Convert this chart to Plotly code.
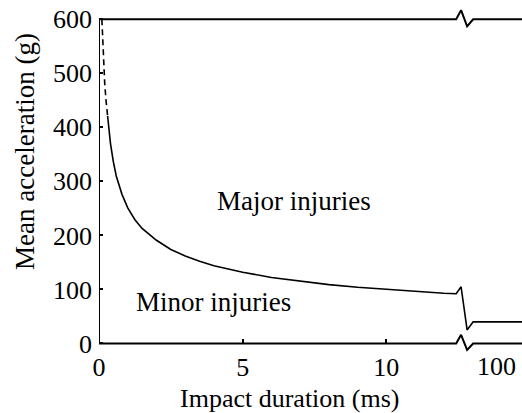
import plotly.graph_objects as go

# Impact duration (ms) and mean acceleration (g)
dash_t = [0.1, 0.15, 0.2, 0.25, 0.3]
dash_a = [600, 530, 480, 447, 421]

curve_t = [0.3, 0.4, 0.5, 0.6, 0.8, 1.0, 1.25, 1.5, 2.0, 2.5, 3.0, 3.5, 4.0,
           5.0, 6.0, 7.0, 8.0, 9.0, 10.0, 11.0, 12.0, 12.43]
curve_a = [421, 370, 336, 310, 276, 251, 229, 213, 191, 174, 162, 152, 144,
           132, 122, 115, 109, 104, 100, 96, 93, 92]

# axis-break zigzag (broken axis between ~13 ms and 100 ms)
brk_t = [12.43, 12.6, 12.81, 13.02]
curve_brk_a = [92, 105, 25, 40]
long_a = 40          # level for the long-duration (100 ms) region
x_end = 14.72

top_a = [600, 617, 587, 600]
bot_a = [0, 16, -12, 0]

x_ticks = [0, 5, 10]
x_ticktext = ["0", "5", "10"]
x100_pos = 13.84
y_ticks = [0, 100, 200, 300, 400, 500, 600]

y_lo, y_hi = -21.3, 620.9

FONT = "Times New Roman, Times, Liberation Serif, serif"
FS = 26
line = dict(color="black", width=1.6)
axline = dict(color="black", width=2)

fig = go.Figure()
fig.add_trace(go.Scatter(x=dash_t, y=dash_a, mode="lines",
                         line=dict(color="black", width=1.6, dash="6px,4px")))
fig.add_trace(go.Scatter(x=curve_t + brk_t[1:] + [x_end],
                         y=curve_a + curve_brk_a[1:] + [long_a],
                         mode="lines", line=line))
fig.add_trace(go.Scatter(x=[0] + brk_t + [x_end], y=[600] + top_a + [600],
                         mode="lines", line=axline))
fig.add_trace(go.Scatter(x=[0] + brk_t + [x_end], y=[0] + bot_a + [0],
                         mode="lines", line=axline))
fig.add_trace(go.Scatter(x=[0, 0], y=[0, 600], mode="lines", line=axline))

tf = dict(family=FONT, size=FS, color="black")
af = dict(family=FONT, size=27, color="black")
fig.add_annotation(x=6.8, y=264, text="Major injuries", showarrow=False, font=af)
fig.add_annotation(x=3.97, y=77, text="Minor injuries", showarrow=False, font=af)
fig.add_annotation(x=x100_pos, y=0, yshift=-23, text="100", showarrow=False, font=tf)
fig.add_annotation(xref="paper", yref="paper", x=0.4515, y=-0.124,
                   xanchor="center", yanchor="middle",
                   text="Impact duration (ms)", showarrow=False, font=tf)
fig.add_annotation(xref="paper", yref="paper", x=-0.175, y=0.588,
                   xanchor="center", yanchor="middle", textangle=-90,
                   text="Mean acceleration (g)", showarrow=False,
                   font=dict(family=FONT, size=27, color="black"))

fig.update_layout(
    width=522, height=413,
    margin=dict(l=99, r=0, t=8, b=58),
    paper_bgcolor="white", plot_bgcolor="white",
    showlegend=False,
    font=dict(family=FONT, size=FS, color="black"),
    xaxis=dict(range=[0, x_end], tickvals=x_ticks, ticktext=x_ticktext,
               anchor="free", position=(-y_lo) / (y_hi - y_lo),
               ticks="inside", ticklen=4, tickwidth=1.5, tickcolor="black",
               showgrid=False, zeroline=False, showline=False,
               ticklabelstandoff=6, tickfont=tf),
    yaxis=dict(range=[y_lo, y_hi], tickvals=y_ticks,
               ticks="inside", ticklen=4, tickwidth=1.5, tickcolor="black",
               showgrid=False, zeroline=False, showline=False,
               ticklabelstandoff=6, tickfont=tf),
)

fig.write_html("out.html")
